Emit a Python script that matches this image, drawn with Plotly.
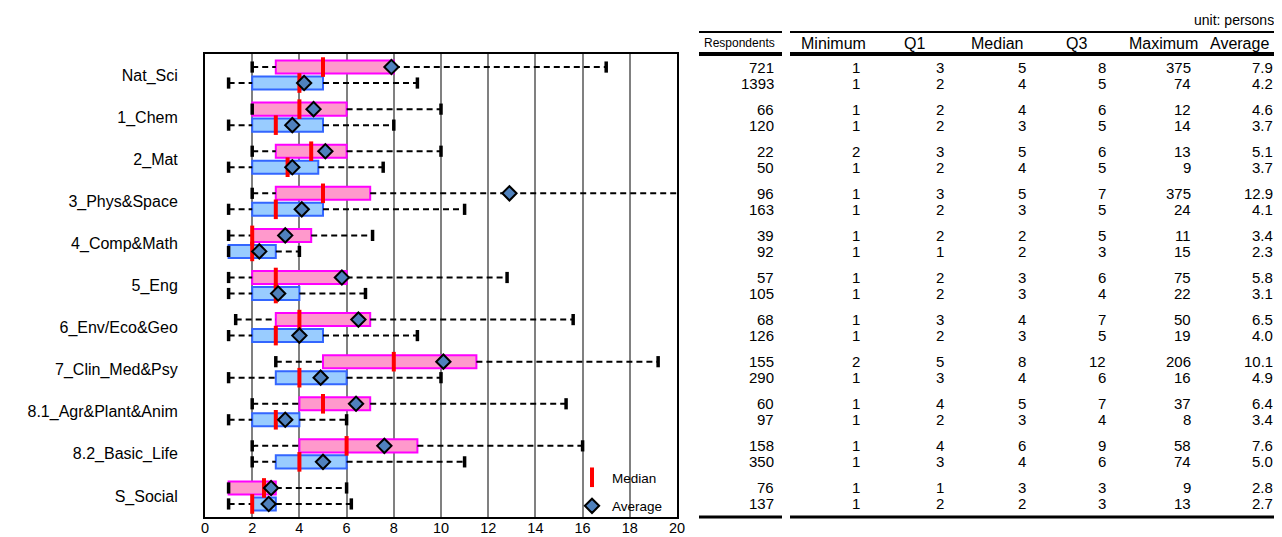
import plotly.graph_objects as go

categories = ["Nat_Sci", "1_Chem", "2_Mat", "3_Phys&Space", "4_Comp&Math", "5_Eng",
              "6_Env/Eco&Geo", "7_Clin_Med&Psy", "8.1_Agr&Plant&Anim", "8.2_Basic_Life", "S_Social"]

# Box-plot statistics as drawn in the chart (group A = pink, group B = blue)
a_lo = [2, 2, 2, 2, 1, 1, 1.3, 3, 2, 2, 1]
a_q1 = [3, 2, 3, 3, 2, 2, 3, 5, 4, 4, 1]
a_med = [5, 4, 4.5, 5, 2, 3, 4, 8, 5, 6, 2.5]
a_q3 = [8, 6, 6, 7, 4.5, 6, 7, 11.5, 7, 9, 3]
a_hi = [17, 10, 10, 21, 7.1, 12.8, 15.6, 19.2, 15.3, 16, 6]

b_lo = [1, 1, 1, 1, 1, 1, 1, 1, 1, 2, 1]
b_q1 = [2, 2, 2, 2, 1, 2, 2, 3, 2, 3, 2]
b_med = [4, 3, 3.5, 3, 2, 3, 3, 4, 3, 4, 2]
b_q3 = [5, 5, 4.8, 5, 3, 4, 5, 6, 4, 6, 3]
b_hi = [9, 8, 7.55, 11, 4, 6.8, 9, 10, 6, 11, 6.2]

# Table values
resp_a = [721, 66, 22, 96, 39, 57, 68, 155, 60, 158, 76]
resp_b = [1393, 120, 50, 163, 92, 105, 126, 290, 97, 350, 137]
min_a = [1, 1, 2, 1, 1, 1, 1, 2, 1, 1, 1]
min_b = [1, 1, 1, 1, 1, 1, 1, 1, 1, 1, 1]
q1_a = [3, 2, 3, 3, 2, 2, 3, 5, 4, 4, 1]
q1_b = [2, 2, 2, 2, 1, 2, 2, 3, 2, 3, 2]
med_a = [5, 4, 5, 5, 2, 3, 4, 8, 5, 6, 3]
med_b = [4, 3, 4, 3, 2, 3, 3, 4, 3, 4, 2]
q3_a = [8, 6, 6, 7, 5, 6, 7, 12, 7, 9, 3]
q3_b = [5, 5, 5, 5, 3, 4, 5, 6, 4, 6, 3]
max_a = [375, 12, 13, 375, 11, 75, 50, 206, 37, 58, 9]
max_b = [74, 14, 9, 24, 15, 22, 19, 16, 8, 74, 13]
avg_a = [7.9, 4.6, 5.1, 12.9, 3.4, 5.8, 6.5, 10.1, 6.4, 7.6, 2.8]
avg_b = [4.2, 3.7, 3.7, 4.1, 2.3, 3.1, 4.0, 4.9, 3.4, 5.0, 2.7]

headers = ["Respondents", "Minimum", "Q1", "Median", "Q3", "Maximum", "Average"]
x_ticks = list(range(0, 21, 2))

FONT = "Liberation Sans, Arial, sans-serif"
PINK_FILL, PINK_LINE = "#FF99CC", "#FF00FF"
BLUE_FILL, BLUE_LINE = "#99CCFF", "#3366FF"
DIAMOND = "#4F81BD"

n = len(categories)
OFF = 0.19
pos_a = [i - OFF for i in range(n)]
pos_b = [i + OFF for i in range(n)]

fig = go.Figure()

# boxes
for pos, q1, q3, fill, line in [(pos_a, a_q1, a_q3, PINK_FILL, PINK_LINE),
                                (pos_b, b_q1, b_q3, BLUE_FILL, BLUE_LINE)]:
    fig.add_trace(go.Bar(orientation="h", y=pos, base=q1,
                         x=[h - l for l, h in zip(q1, q3)], width=0.31,
                         marker=dict(color=fill, line=dict(color=line, width=2)),
                         showlegend=False, hoverinfo="skip"))

# whiskers
for pos, lo, q1, q3, hi in [(pos_a, a_lo, a_q1, a_q3, a_hi), (pos_b, b_lo, b_q1, b_q3, b_hi)]:
    xs, ys = [], []
    for p, l, a, b, h in zip(pos, lo, q1, q3, hi):
        if a > l:
            xs += [l, a, None]
            ys += [p, p, None]
        xs += [b, h, None]
        ys += [p, p, None]
    fig.add_trace(go.Scatter(x=xs, y=ys, mode="lines",
                             line=dict(color="black", width=2, dash="6px,4px"),
                             showlegend=False, hoverinfo="skip"))
    fig.add_trace(go.Scatter(x=lo + hi, y=pos + pos, mode="markers",
                             marker=dict(symbol="line-ns", size=8,
                                         line=dict(color="black", width=3.5)),
                             showlegend=False, hoverinfo="skip"))

# medians
fig.add_trace(go.Scatter(x=a_med + b_med, y=pos_a + pos_b, mode="markers", name="Median",
                         legendgroup="med",
                         marker=dict(symbol="line-ns", size=14, color="red",
                                     line=dict(color="red", width=4))))
# averages
fig.add_trace(go.Scatter(x=avg_a + avg_b, y=pos_a + pos_b, mode="markers", name="Average",
                         legendgroup="avg",
                         marker=dict(symbol="diamond", size=11, color=DIAMOND,
                                     line=dict(color="black", width=2))))

# ---- table (x2 / y2 expressed in page pixels) ----
col_right = [776, 862, 946, 1028, 1108, 1193, 1275]
head_center = [739, 833, 914, 997, 1076, 1163, 1239]
annotations = []
for h, xc in zip(headers, head_center):
    annotations.append(dict(x=xc, y=43, xref="x2", yref="y2", text=h, showarrow=False,
                            xanchor="center", yanchor="middle",
                            font=dict(size=12 if h == "Respondents" else 16, color="black", family=FONT)))
annotations.append(dict(x=1276, y=20, xref="x2", yref="y2", text="unit: persons", showarrow=False,
                        xanchor="right", yanchor="middle", font=dict(size=14, color="black", family=FONT)))

cols_a = [resp_a, min_a, q1_a, med_a, q3_a, max_a, [f"{v:.1f}" for v in avg_a]]
cols_b = [resp_b, min_b, q1_b, med_b, q3_b, max_b, [f"{v:.1f}" for v in avg_b]]
for cols, pos in [(cols_a, pos_a), (cols_b, pos_b)]:
    for col, xr in zip(cols, col_right):
        for v, p in zip(col, pos):
            annotations.append(dict(x=xr, y=p, xref="x2", yref="y", text=str(v), showarrow=False,
                                    xanchor="right", yanchor="middle",
                                    font=dict(size=15, color="black", family=FONT)))

shapes = []
for y, w in [(32, 2), (54, 4), (517, 3)]:
    for x0, x1 in [(699, 782), (790, 1278)]:
        shapes.append(dict(type="line", xref="x2", yref="y2", x0=x0, x1=x1, y0=y, y1=y,
                           line=dict(color="black", width=w)))

# page has an 8px body margin: figure spans page pixels 8..1282 x 8..537
BODY = 8
W, H = 1282 - BODY, 537 - BODY
P_LEFT, P_RIGHT, P_TOP, P_BOTTOM = 205, 1282, 10, 522   # paper area in page pixels
ML, MR = P_LEFT - BODY, BODY + W - P_RIGHT
MT, MB = P_TOP - BODY, BODY + H - P_BOTTOM
PW = P_RIGHT - P_LEFT
PH = P_BOTTOM - P_TOP
def px_x(px):
    return (px - P_LEFT) / PW
def px_y(py):
    return (P_BOTTOM - py) / PH

fig.update_layout(
    width=W, height=H,
    margin=dict(l=ML, r=MR, t=MT, b=MB, autoexpand=False),
    paper_bgcolor="white", plot_bgcolor="white",
    barmode="overlay",
    font=dict(family=FONT, color="black"),
    xaxis=dict(domain=[0, px_x(677)], range=[0, 20], tickvals=x_ticks,
               showgrid=True, gridcolor="#808080", gridwidth=2, zeroline=False,
               showline=True, linecolor="black", linewidth=2, mirror=True, ticks="",
               automargin=False, ticklabelstandoff=-3,
               tickfont=dict(size=14.5, color="black", family=FONT), anchor="y"),
    yaxis=dict(domain=[px_y(517), px_y(54)], range=[n - 0.5, -0.5], autorange=False,
               tickvals=list(range(n)), ticktext=categories, showgrid=False, zeroline=False,
               showline=True, linecolor="black", linewidth=2, mirror=True, ticks="",
               ticklabelstandoff=22, automargin=False,
               tickfont=dict(size=16, color="black", family=FONT), anchor="x"),
    xaxis2=dict(domain=[px_x(690), 1], range=[690, P_RIGHT], visible=False, anchor="y2",
                automargin=False),
    yaxis2=dict(domain=[0, 1], range=[P_BOTTOM, P_TOP], autorange=False, visible=False,
                anchor="x2", automargin=False),
    annotations=annotations,
    shapes=shapes,
    legend=dict(x=px_x(572), y=px_y(462), xanchor="left", yanchor="top",
                bgcolor="rgba(0,0,0,0)", font=dict(size=13.5, color="black", family=FONT),
                itemwidth=30, tracegroupgap=8, traceorder="grouped"),
)

fig.write_html("out.html")
